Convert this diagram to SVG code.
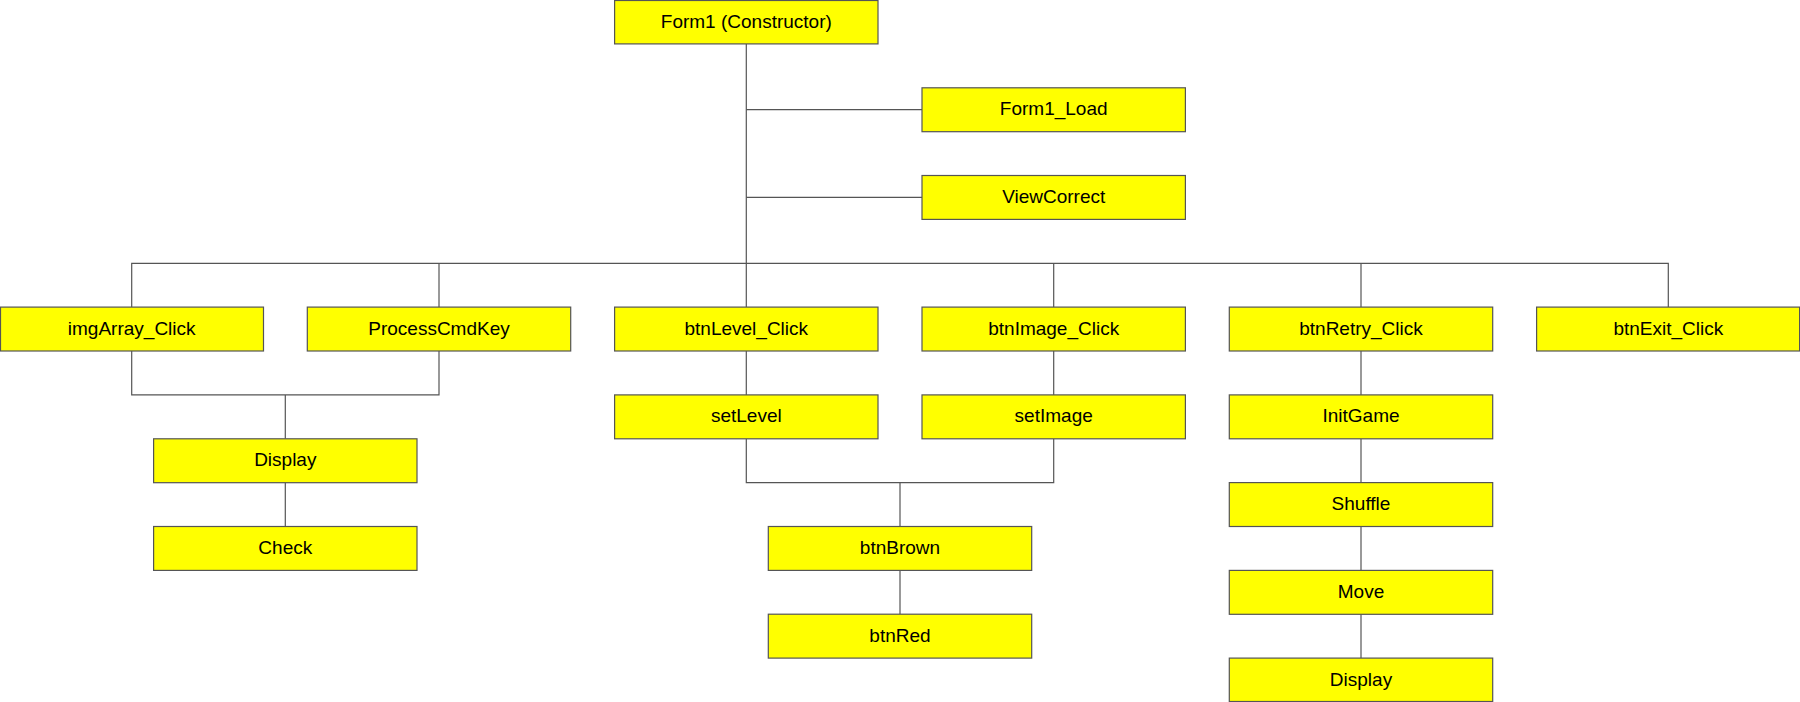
<svg xmlns="http://www.w3.org/2000/svg" width="1800" height="702" viewBox="0 0 1800 702">
<style>
.n rect{fill:#ffff00;stroke:#555;stroke-width:1.2}
.n text{font-family:"Liberation Sans",Arial,sans-serif;font-size:19px;fill:#000;text-anchor:middle}
.c path{fill:none;stroke:#555;stroke-width:1.2}
</style>
<rect width="1800" height="702" fill="#fff"/>
<g class="c" id="connectors">
<path d="M746.3 43.9V263.3"/>
<path d="M746.3 109.7H922"/>
<path d="M746.3 197.4H922"/>
<path d="M131.7 307.1V263.3H1668.3V307.1"/>
<path d="M439 263.3V307.1"/>
<path d="M1053.7 263.3V307.1"/>
<path d="M1361 263.3V307.1"/>
<path d="M746.3 263.3V307.1"/>
<path d="M131.7 351V394.9H439V351"/>
<path d="M285.3 394.9V438.8"/>
<path d="M285.3 482.6V526.5"/>
<path d="M746.3 351V394.9"/>
<path d="M1053.7 351V394.9"/>
<path d="M746.3 438.8V482.6H1053.7V438.8"/>
<path d="M900 482.6V526.5"/>
<path d="M900 570.4V614.2"/>
<path d="M1361 351V394.9"/>
<path d="M1361 438.8V482.6"/>
<path d="M1361 526.5V570.4"/>
<path d="M1361 614.2V658.1"/>
</g>
<g class="n" id="form1"><rect x="614.6" y="0.5" width="263.4" height="43.4"/><text x="746.3" y="27.6">Form1 (Constructor)</text></g>
<g class="n" id="form1_load"><rect x="922" y="87.8" width="263.4" height="43.9"/><text x="1053.7" y="115.2">Form1_Load</text></g>
<g class="n" id="viewcorrect"><rect x="922" y="175.5" width="263.4" height="43.9"/><text x="1053.7" y="202.9">ViewCorrect</text></g>
<g class="n" id="imgarray_click"><rect x="0.5" y="307.1" width="263" height="43.9"/><text x="131.7" y="334.5">imgArray_Click</text></g>
<g class="n" id="processcmdkey"><rect x="307.3" y="307.1" width="263.4" height="43.9"/><text x="439" y="334.5">ProcessCmdKey</text></g>
<g class="n" id="btnlevel_click"><rect x="614.6" y="307.1" width="263.4" height="43.9"/><text x="746.3" y="334.5">btnLevel_Click</text></g>
<g class="n" id="btnimage_click"><rect x="922" y="307.1" width="263.4" height="43.9"/><text x="1053.7" y="334.5">btnImage_Click</text></g>
<g class="n" id="btnretry_click"><rect x="1229.3" y="307.1" width="263.4" height="43.9"/><text x="1361" y="334.5">btnRetry_Click</text></g>
<g class="n" id="btnexit_click"><rect x="1536.6" y="307.1" width="263" height="43.9"/><text x="1668.3" y="334.5">btnExit_Click</text></g>
<g class="n" id="display1"><rect x="153.6" y="438.8" width="263.4" height="43.9"/><text x="285.3" y="466.2">Display</text></g>
<g class="n" id="check"><rect x="153.6" y="526.5" width="263.4" height="43.9"/><text x="285.3" y="553.9">Check</text></g>
<g class="n" id="setlevel"><rect x="614.6" y="394.9" width="263.4" height="43.9"/><text x="746.3" y="422.3">setLevel</text></g>
<g class="n" id="setimage"><rect x="922" y="394.9" width="263.4" height="43.9"/><text x="1053.7" y="422.3">setImage</text></g>
<g class="n" id="btnbrown"><rect x="768.3" y="526.5" width="263.4" height="43.9"/><text x="900" y="553.9">btnBrown</text></g>
<g class="n" id="btnred"><rect x="768.3" y="614.2" width="263.4" height="43.9"/><text x="900" y="641.6">btnRed</text></g>
<g class="n" id="initgame"><rect x="1229.3" y="394.9" width="263.4" height="43.9"/><text x="1361" y="422.3">InitGame</text></g>
<g class="n" id="shuffle"><rect x="1229.3" y="482.6" width="263.4" height="43.9"/><text x="1361" y="510">Shuffle</text></g>
<g class="n" id="move"><rect x="1229.3" y="570.4" width="263.4" height="43.9"/><text x="1361" y="597.8">Move</text></g>
<g class="n" id="display2"><rect x="1229.3" y="658.1" width="263.4" height="43.4"/><text x="1361" y="685.5">Display</text></g>
</svg>
